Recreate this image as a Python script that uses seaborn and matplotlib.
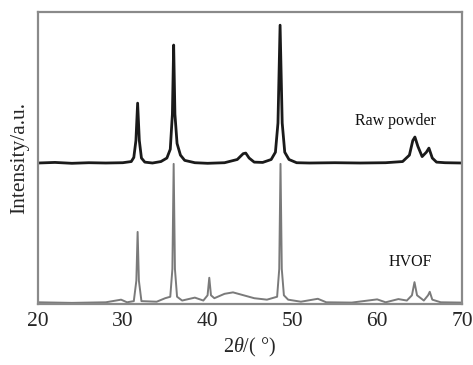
import matplotlib
matplotlib.use("Agg")
import matplotlib.pyplot as plt
import seaborn as sns
import pandas as pd

# raw powder XRD profile (2theta, intensity in a.u., offset upwards)
raw_theta = [20.0, 22.0, 24.0, 26.0, 28.0, 30.0, 31.0, 31.3, 31.55, 31.75, 31.95, 32.2, 32.6,
             33.5, 34.5, 35.2, 35.6, 35.85, 36.0, 36.15, 36.4, 36.8, 37.3, 38.5, 40.0, 42.0,
             43.5, 44.2, 44.5, 44.9, 45.5, 46.5, 47.5, 48.0, 48.3, 48.55, 48.8, 49.1, 49.6,
             50.5, 52.0, 55.0, 58.0, 61.0, 63.0, 63.8, 64.2, 64.45, 64.8, 65.3, 65.8, 66.1,
             66.5, 67.0, 68.0, 70.0]
raw_int = [48.3, 48.5, 48.2, 48.4, 48.3, 48.4, 48.8, 50.2, 56.0, 68.8, 56.0, 50.0, 48.6,
           48.3, 48.8, 50.0, 53.0, 65.0, 88.7, 65.0, 55.0, 51.0, 49.2, 48.4, 48.2, 48.4,
           49.5, 51.5, 51.7, 50.0, 48.6, 48.5, 49.5, 52.0, 62.0, 95.5, 62.0, 52.0, 49.5,
           48.4, 48.3, 48.4, 48.3, 48.4, 48.8, 51.0, 56.0, 57.2, 54.0, 50.5, 52.0, 53.4,
           50.0, 48.6, 48.4, 48.3]

# HVOF coating profile
hvof_theta = [20.0, 24.0, 28.0, 29.8, 30.5, 31.3, 31.6, 31.75, 31.9, 32.2, 34.0, 35.0, 35.6,
              35.85, 36.0, 36.15, 36.4, 37.0, 38.5, 39.5, 40.0, 40.2, 40.4, 40.8, 42.0, 43.0,
              44.0, 45.5, 47.0, 48.2, 48.45, 48.6, 48.75, 49.0, 49.5, 51.0, 53.0, 54.0, 57.0,
              60.0, 61.0, 62.5, 63.5, 64.1, 64.4, 64.7, 65.5, 66.0, 66.2, 66.5, 67.5, 70.0]
hvof_int = [0.6, 0.4, 0.6, 1.5, 0.6, 1.0, 8.0, 24.7, 8.0, 1.0, 0.8, 2.0, 2.5,
            12.0, 48.0, 12.0, 2.5, 1.2, 2.2, 1.2, 3.0, 9.0, 3.0, 2.0, 3.5, 4.0,
            3.2, 2.0, 1.5, 2.5, 12.0, 48.0, 12.0, 3.0, 1.5, 0.8, 1.8, 0.6, 0.5,
            1.6, 0.6, 1.7, 1.2, 3.0, 7.5, 3.0, 1.2, 3.0, 4.2, 1.5, 0.6, 0.5]

xticks = [20, 30, 40, 50, 60, 70]

raw = pd.DataFrame({"theta": raw_theta, "intensity": raw_int})
hvof = pd.DataFrame({"theta": hvof_theta, "intensity": hvof_int})

sns.set_theme(style="white")
plt.rcParams["font.family"] = ["Liberation Serif", "DejaVu Serif"]
plt.rcParams["mathtext.fontset"] = "custom"
plt.rcParams["mathtext.rm"] = "Liberation Serif"
plt.rcParams["mathtext.it"] = "Liberation Serif:italic"

fig = plt.figure(figsize=(4.73, 3.65), dpi=100)
ax = fig.add_axes([0.0803, 0.167, 0.8964, 0.800])

sns.lineplot(data=hvof, x="theta", y="intensity", ax=ax, color="#7a7a7a", linewidth=1.4)
sns.lineplot(data=raw, x="theta", y="intensity", ax=ax, color="#1a1a1a", linewidth=2.0)

ax.text(62.1, 62.7, "Raw powder", ha="center", va="center", fontsize=11.5, color="#111111")
ax.text(63.9, 14.4, "HVOF", ha="center", va="center", fontsize=11.5, color="#111111")

ax.set_xlim(20, 70)
ax.set_ylim(0, 100)
ax.set_xticks(xticks)
ax.set_xticklabels([str(t) for t in xticks], fontsize=15.5)
ax.set_yticks([])
ax.tick_params(axis="x", length=0, pad=6)
ax.set_xlabel(r"2$\mathit{\theta}$/( °)", fontsize=14.5, labelpad=3)
ax.set_ylabel("Intensity/a.u.", fontsize=15.5, labelpad=6)

for s in ax.spines.values():
    s.set_color("#8a8a8a")
    s.set_linewidth(1.6)

fig.savefig("out.png", dpi=100)
plt.close(fig)
